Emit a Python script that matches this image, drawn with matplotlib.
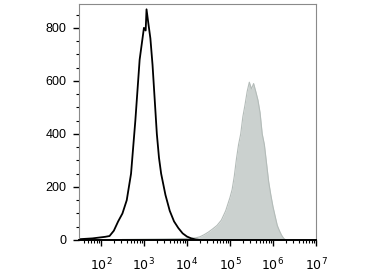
import numpy as np
from matplotlib import pyplot as plt
from matplotlib.ticker import LogLocator, NullFormatter, MultipleLocator

plt.rcParams['font.family'] = ['Liberation Sans', 'DejaVu Sans']

# bin centres (log10 of fluorescence) and event counts
ctrl_log = [1.5, 1.6, 1.7, 1.8, 1.9, 2.0, 2.1, 2.2, 2.3, 2.4, 2.5, 2.6, 2.7,
            2.8, 2.9, 2.95, 3.0, 3.04, 3.06, 3.1, 3.15, 3.2, 3.25, 3.3, 3.35,
            3.4, 3.5, 3.6, 3.7, 3.8, 3.9, 4.0, 4.1, 4.2, 4.3]
ctrl_counts = [3, 4, 5, 6, 8, 10, 12, 15, 35, 70, 100, 150, 250,
               450, 680, 740, 800, 790, 870, 820, 760, 660, 530, 400, 310,
               250, 170, 110, 70, 45, 25, 13, 6, 2, 0]

stain_log = [2.5, 3.0, 3.5, 3.8, 4.0, 4.2, 4.3, 4.4, 4.5, 4.6, 4.7, 4.8, 4.9,
             5.0, 5.05, 5.1, 5.15, 5.2, 5.25, 5.3, 5.35, 5.4, 5.45, 5.5, 5.55,
             5.6, 5.65, 5.7, 5.75, 5.8, 5.85, 5.9, 5.95, 6.0, 6.05, 6.1, 6.15,
             6.2, 6.25, 6.3]
stain_counts = [2, 3, 4, 5, 6, 8, 12, 20, 30, 42, 55, 75, 110,
                160, 190, 240, 305, 360, 400, 465, 510, 560, 595, 570, 590,
                560, 528, 480, 400, 360, 290, 220, 170, 126, 90, 55, 35,
                18, 6, 0]

fig = plt.figure(figsize=(3.7, 2.77), dpi=100)
ax = fig.add_axes([0.2135, 0.1336, 0.6405, 0.852])

xs = 10 ** np.array(stain_log)
ax.fill_between(xs, stain_counts, color='#cbd1cf', lw=0)
ax.plot(xs, stain_counts, color='#b4bcb9', lw=0.8)

ax.plot(10 ** np.array(ctrl_log), ctrl_counts, color='black', lw=1.3)

ax.set_xscale('log')
ax.set_xlim(10 ** 1.49, 1e7)
ax.set_ylim(0, 890)

ax.xaxis.set_minor_locator(LogLocator(base=10, subs=np.arange(2, 10), numticks=20))
ax.xaxis.set_minor_formatter(NullFormatter())
ax.set_xticks([1e2, 1e3, 1e4, 1e5, 1e6, 1e7])
ax.set_xticklabels(['$10^2$', '$10^3$', '$10^4$', '$10^5$', '$10^6$', '$10^7$'])
ax.tick_params(axis='x', which='major', length=4, width=1, pad=8, labelsize=9)
ax.tick_params(axis='x', which='minor', length=2.5, width=0.8)

ax.yaxis.set_major_locator(MultipleLocator(200))
ax.yaxis.set_minor_locator(MultipleLocator(50))
ax.tick_params(axis='y', which='major', length=4, width=1, pad=5, labelsize=9)
ax.tick_params(axis='y', which='minor', length=2.5, width=0.8)

for side in ['top', 'right', 'left']:
    ax.spines[side].set_color('#8a8a8a')
ax.spines['bottom'].set_linewidth(1.4)

fig.savefig('out.png', dpi=100)
